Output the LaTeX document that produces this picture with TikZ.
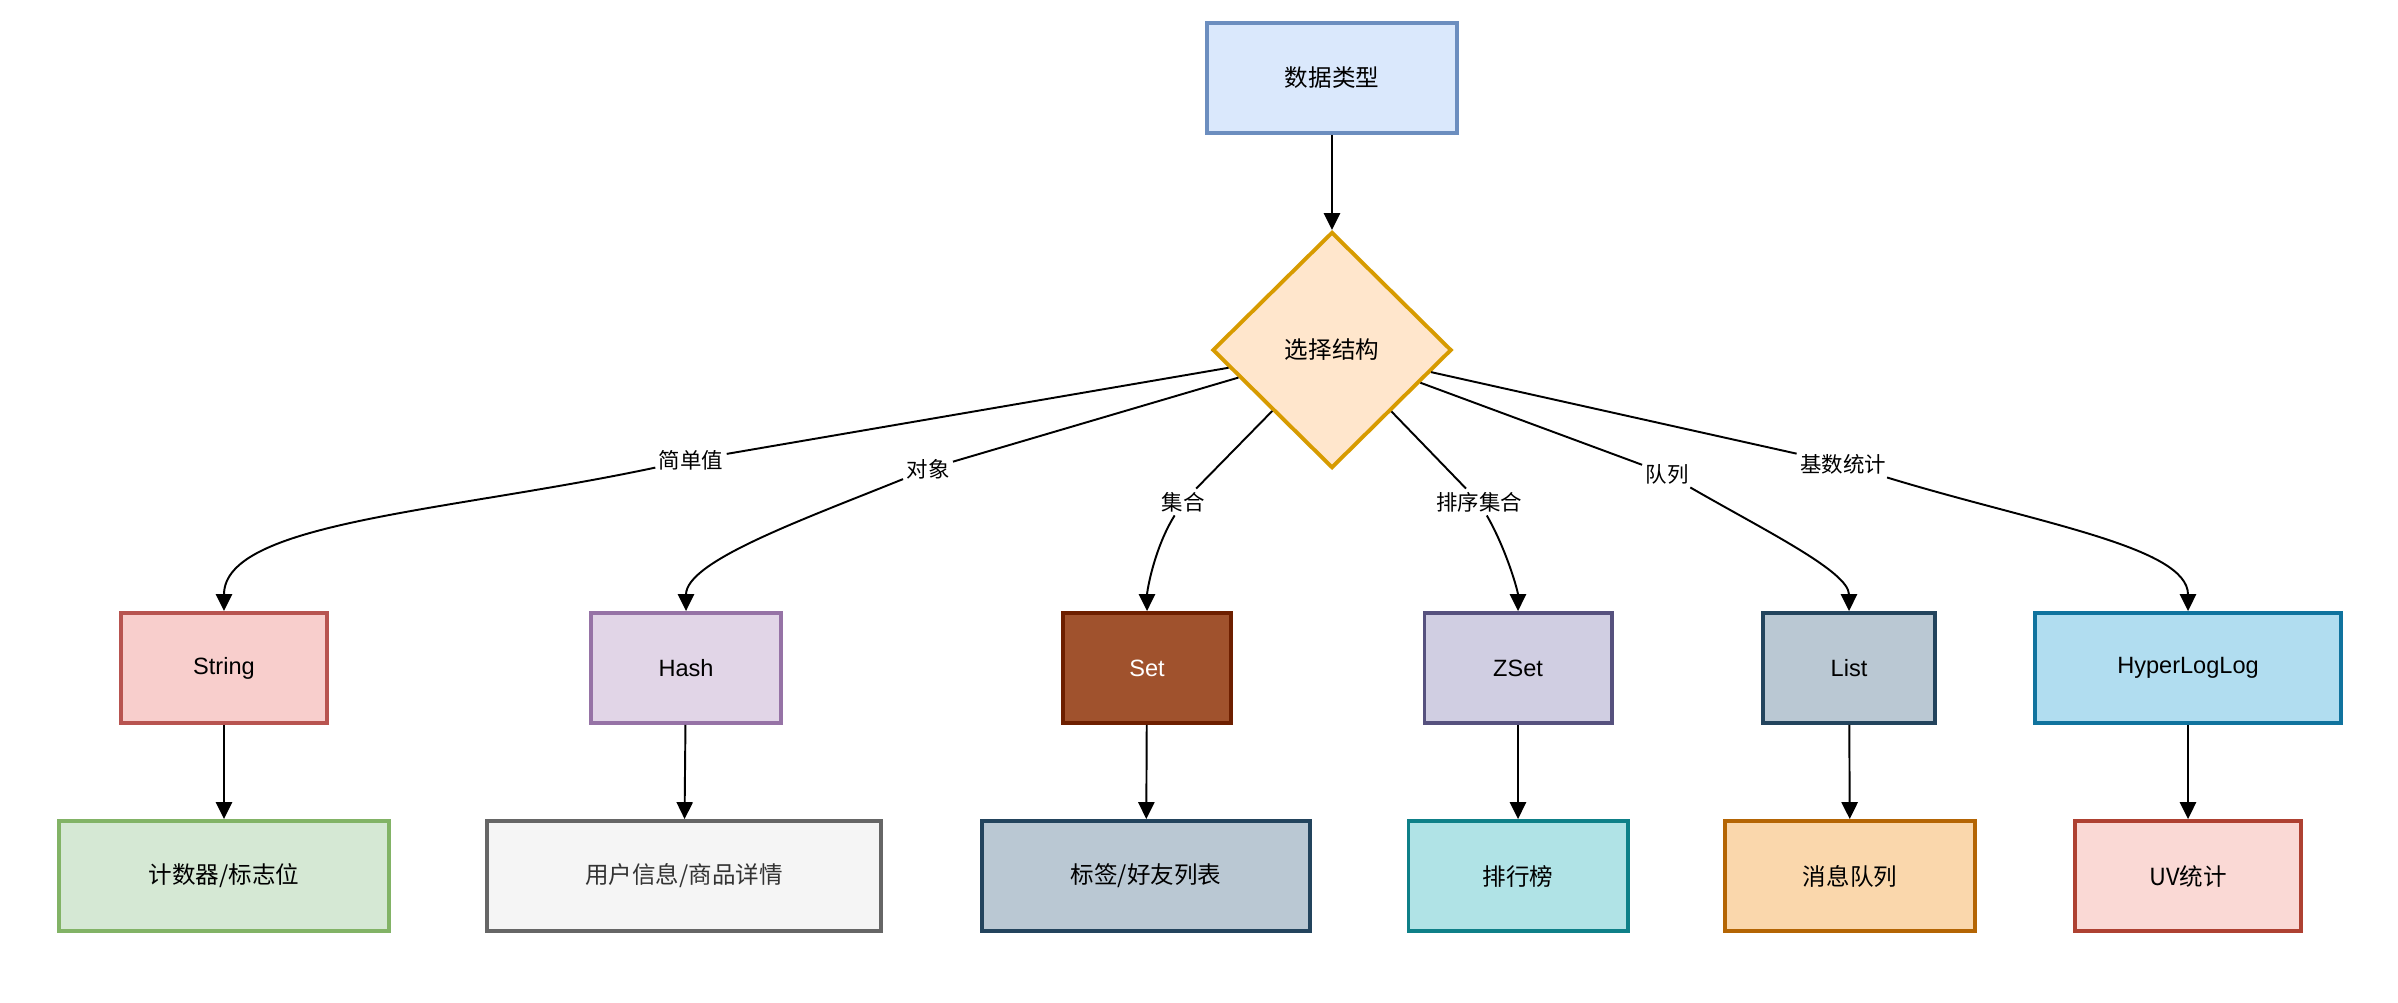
\documentclass[tikz,border=0pt]{standalone}
\usepackage{fontspec}
\setmainfont{Liberation Sans}
\newfontfamily\cjk{Noto Sans CJK SC}
\usepackage{tikz}
\usetikzlibrary{shapes.geometric}
\usetikzlibrary{arrows.meta}
\definecolor{typefill}{HTML}{DAE8FC}\definecolor{typeline}{HTML}{6C8EBF}
\definecolor{selfill}{HTML}{FFE6CC}\definecolor{selline}{HTML}{D79B00}
\definecolor{strfill}{HTML}{F8CECC}\definecolor{strline}{HTML}{B85450}
\definecolor{hashfill}{HTML}{E1D5E7}\definecolor{hashline}{HTML}{9673A6}
\definecolor{setfill}{HTML}{A0522D}\definecolor{setline}{HTML}{6D1F00}
\definecolor{zsetfill}{HTML}{D0CEE2}\definecolor{zsetline}{HTML}{56517E}
\definecolor{listfill}{HTML}{BAC8D3}\definecolor{listline}{HTML}{23445D}
\definecolor{hllfill}{HTML}{B1DDF0}\definecolor{hllline}{HTML}{10739E}
\definecolor{cntfill}{HTML}{D5E8D4}\definecolor{cntline}{HTML}{82B366}
\definecolor{infofill}{HTML}{F5F5F5}\definecolor{infoline}{HTML}{666666}
\definecolor{rankfill}{HTML}{B0E3E6}\definecolor{rankline}{HTML}{0E8088}
\definecolor{mqfill}{HTML}{FAD7AC}\definecolor{mqline}{HTML}{B46504}
\definecolor{uvfill}{HTML}{FAD9D5}\definecolor{uvline}{HTML}{AE4132}
\tikzset{box/.style={draw, line width=1.1pt, minimum height=1.1cm, inner sep=0pt, font=\fontsize{6.7}{8}\selectfont},
  cbox/.style={box, font=\fontsize{6.7}{8}\selectfont\cjk},
  elabel/.style={fill=white, inner sep=0.8pt, font=\fontsize{6.1}{7}\selectfont\cjk},
  edge/.style={line width=0.55pt, -{Triangle[length=4.8pt,width=4.6pt]}}}

\begin{document}
\begin{tikzpicture}[x=0.01cm, y=-0.01cm]
\fill[white] (0,0) rectangle (2398,1002);
\useasboundingbox (0,0) rectangle (2398,1002);
\node[cbox, fill=typefill, draw=typeline, minimum width=2.5cm] (types) at (1332,78) {数据类型};
\node[diamond, draw=selline, fill=selfill, line width=1.1pt, minimum width=2.39cm, minimum height=2.36cm, inner sep=0pt, font=\fontsize{6.7}{8}\selectfont\cjk] (sel) at (1332,350) {选择结构};
\node[box, fill=strfill, draw=strline, minimum width=2.06cm] (str) at (224,668) {String};
\node[box, fill=hashfill, draw=hashline, minimum width=1.9cm] (hash) at (686,668) {Hash};
\node[box, fill=setfill, draw=setline, minimum width=1.68cm, text=white] (set) at (1147,668) {Set};
\node[box, fill=zsetfill, draw=zsetline, minimum width=1.87cm] (zset) at (1518,668) {ZSet};
\node[box, fill=listfill, draw=listline, minimum width=1.72cm] (list) at (1849,668) {List};
\node[box, fill=hllfill, draw=hllline, minimum width=3.06cm] (hll) at (2188,668) {HyperLogLog};
\node[cbox, fill=cntfill, draw=cntline, minimum width=3.3cm] (cnt) at (224,876) {计数器/标志位};
\node[cbox, fill=infofill, draw=infoline, minimum width=3.94cm, text={rgb,255:red,51;green,51;blue,51}] (info) at (684,876) {用户信息/商品详情};
\node[cbox, fill=listfill, draw=listline, minimum width=3.28cm] (tags) at (1146,876) {标签/好友列表};
\node[cbox, fill=rankfill, draw=rankline, minimum width=2.19cm] (rank) at (1518,876) {排行榜};
\node[cbox, fill=mqfill, draw=mqline, minimum width=2.5cm] (mq) at (1850,876) {消息队列};
\node[cbox, fill=uvfill, draw=uvline, minimum width=2.26cm] (uv) at (2188,876) {UV统计};
\node[elabel] (lsimple) at (691,460) {简单值};
\node[elabel] (lobj) at (928,469) {对象};
\node[elabel] (lset) at (1183,502) {集合};
\node[elabel] (lzset) at (1479,502) {排序集合};
\node[elabel] (llist) at (1667,474) {队列};
\node[elabel] (lcard) at (1843,464) {基数统计};
\draw[edge] (types) -- (sel);
\draw[edge] (sel) -- (lsimple) to[out=192, in=90, out looseness=1.2, in looseness=0.5] (str);
\draw[edge] (sel) -- (lobj) to[out=202, in=90, out looseness=1.1, in looseness=0.5] (hash);
\draw[edge] (sel) -- (lset) to[out=238, in=90, in looseness=0.5] (set);
\draw[edge] (sel) -- (lzset) to[out=-60, in=90, in looseness=0.5] (zset);
\draw[edge] (sel) -- (llist) to[out=-30, in=90, out looseness=1.1, in looseness=0.5] (list);
\draw[edge] (sel) -- (lcard) to[out=-17, in=90, out looseness=1.2, in looseness=0.5] (hll);
\draw[edge] (str) -- (cnt);
\draw[edge] (hash) -- (info);
\draw[edge] (set) -- (tags);
\draw[edge] (zset) -- (rank);
\draw[edge] (list) -- (mq);
\draw[edge] (hll) -- (uv);
\end{tikzpicture}
\end{document}
